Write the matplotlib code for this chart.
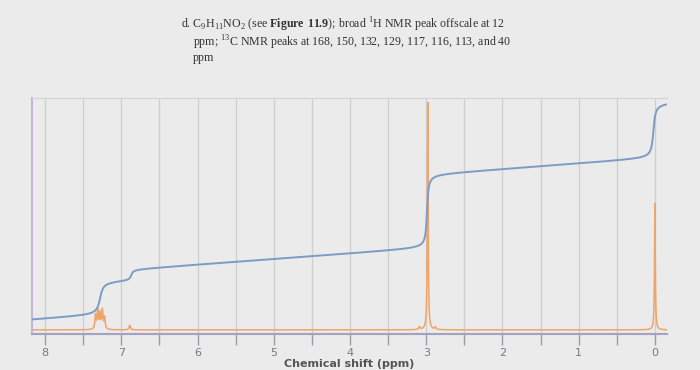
import numpy as np
import matplotlib
matplotlib.use("Agg")
import matplotlib.pyplot as plt

# ---- data ----
# 1H peaks (ppm, height in % of axis, half-width ppm)
peak_ppm = [7.34, 7.31, 7.28, 7.25, 7.22, 6.89, 3.09, 2.98, 2.88, 0.00]
peak_height = [6.0, 8.0, 6.5, 8.0, 5.0, 2.0, 1.2, 96.5, 1.0, 53.8]
peak_width = [0.009, 0.009, 0.009, 0.009, 0.009, 0.010, 0.010, 0.006, 0.010, 0.006]
baseline_level = 1.8

# integral curve: steps (ppm, rise, width), start level and drift per ppm
step_ppm = [7.28, 6.87, 2.99, 0.02]
step_rise = [14.0, 4.5, 31.3, 23.3]
step_width = [0.03, 0.02, 0.015, 0.02]
integral_start = 6.0
integral_drift = 2.3

major_ticks = [8, 7, 6, 5, 4, 3, 2, 1, 0]
minor_ticks = [7.5, 6.5, 5.5, 4.5, 3.5, 2.5, 1.5, 0.5]
x_left, x_right = 8.17, -0.16

plt.rcParams['mathtext.fontset'] = 'custom'
plt.rcParams['mathtext.rm'] = 'Liberation Serif'
plt.rcParams['mathtext.bf'] = 'Liberation Serif:bold'

bg = '#ebebeb'
fig = plt.figure(figsize=(7, 3.7), dpi=100, facecolor=bg)
ax = fig.add_axes([0.046, 0.097, 0.907, 0.638], facecolor=bg)

x = np.linspace(x_left, x_right, 8000)
spec = np.full_like(x, baseline_level)
for c, h, w in zip(peak_ppm, peak_height, peak_width):
    spec += h * w**2 / ((x - c)**2 + w**2)

integ = integral_start + integral_drift * (x_left - x)
for c, h, w in zip(step_ppm, step_rise, step_width):
    integ += h * (0.5 + np.arctan((c - x) / w) / np.pi)

for t in major_ticks + minor_ticks:
    ax.axvline(t, color='#cfcfcf', lw=0.9, zorder=0)

ax.plot(x, spec, color='#f0a468', lw=1.1, zorder=2)
ax.plot(x, integ, color='#7c9cc4', lw=1.4, zorder=3)

ax.set_xlim(x_left, x_right)
ax.set_ylim(0, 100)
ax.set_yticks([])
ax.set_xticks(major_ticks)
ax.set_xticks(minor_ticks, minor=True)
ax.set_xticklabels([str(t) for t in major_ticks])
ax.tick_params(axis='x', which='both', direction='out', length=8, width=1,
               color='#9a9aaa', labelcolor='#7a7a7a', labelsize=8, pad=2)
ax.spines['right'].set_visible(False)
ax.spines['top'].set_color('#d3d3d3')
ax.spines['left'].set_color('#c6b3dc')
ax.spines['left'].set_linewidth(1.5)
ax.spines['bottom'].set_color('#a3a3c0')
ax.spines['bottom'].set_linewidth(1.5)
ax.set_xlabel('Chemical shift (ppm)', fontsize=8, fontweight='bold',
              color='#555555', labelpad=0.5, family='DejaVu Sans')

tkw = dict(fontsize=8.6, color='#333333', family='Liberation Serif', va='baseline')
fig.text(181/700, 0.924,
         r"d. C$_9$H$_{11}$NO$_2$ (see $\mathbf{Figure\ 11.9}$); broad $^1$H NMR peak offscale at 12", **tkw)
fig.text(193/700, 0.873,
         r"ppm; $^{13}$C NMR peaks at 168, 150, 132, 129, 117, 116, 113, and 40", **tkw)
fig.text(193/700, 0.835, "ppm", **tkw)

fig.savefig('out.png', dpi=100, facecolor=bg)
